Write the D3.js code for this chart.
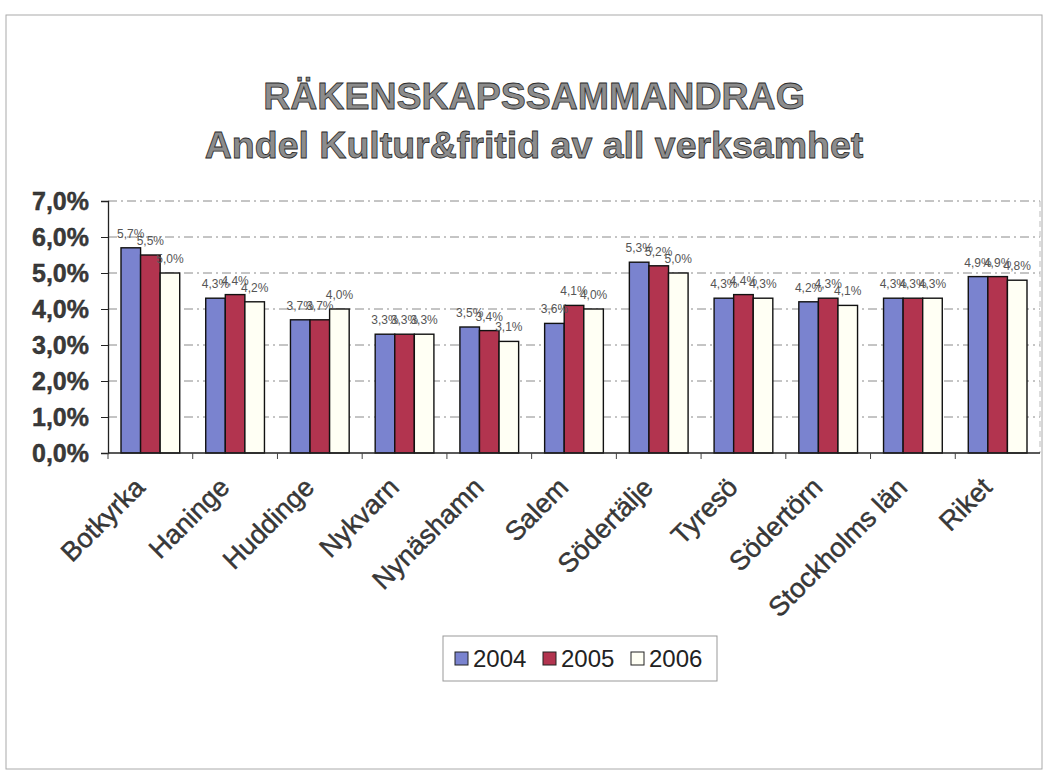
<html>
<head>
<meta charset="utf-8">
<title>Räkenskapssammandrag</title>
<script src="https://d3js.org/d3.v7.min.js"></script>
<style>
  body { margin: 0; background: #fff; }
  svg { display: block; font-family: Arial, "Liberation Sans", sans-serif; }
</style>
</head>
<body>
<div id="container"></div>
<script>
// chart data
var categories = ["Botkyrka", "Haninge", "Huddinge", "Nykvarn", "Nynäshamn", "Salem",
                  "Södertälje", "Tyresö", "Södertörn", "Stockholms län", "Riket"];
var years = ["2004", "2005", "2006"];
var values2004 = [5.7, 4.3, 3.7, 3.3, 3.5, 3.6, 5.3, 4.3, 4.2, 4.3, 4.9];
var values2005 = [5.5, 4.4, 3.7, 3.3, 3.4, 4.1, 5.2, 4.4, 4.3, 4.3, 4.9];
var values2006 = [5.0, 4.2, 4.0, 3.3, 3.1, 4.0, 5.0, 4.3, 4.1, 4.3, 4.8];
var yTicks = [0, 1, 2, 3, 4, 5, 6, 7];
var titleLines = ["RÄKENSKAPSSAMMANDRAG", "Andel Kultur&fritid av all verksamhet"];

var colors = {"2004": "#7a83cf", "2005": "#b2344f", "2006": "#fffff4"};

var width = 1047, height = 772;
var svg = d3.select("#container").append("svg")
  .attr("width", width)
  .attr("height", height);

// outer frame (page)
svg.append("rect")
  .attr("x", 6).attr("y", 15)
  .attr("width", 1036).attr("height", 754)
  .attr("fill", "none")
  .attr("stroke", "#aaa")
  .attr("stroke-width", 1);

// title
svg.selectAll(".title")
  .data(titleLines)
  .enter().append("text")
  .attr("class", "title")
  .attr("x", 534)
  .attr("y", function(d, i) { return 109 + i * 49; })
  .attr("text-anchor", "middle")
  .attr("font-size", "37.5px")
  .attr("font-weight", "bold")
  .attr("fill", "#8c8c8c")
  .attr("stroke", "#2a2a2a")
  .attr("stroke-width", 0.8)
  .text(function(d) { return d; });

var plotLeft = 108, plotRight = 1040, plotTop = 201, plotBottom = 453;

var x = d3.scaleBand()
  .domain(categories)
  .range([plotLeft, plotRight])
  .padding(0);

var xSub = d3.scaleBand()
  .domain(years)
  .range([13, x.bandwidth() - 13])
  .padding(0);

var y = d3.scaleLinear()
  .domain([0, 7])
  .range([plotBottom, plotTop]);

// gridlines
svg.append("g")
  .selectAll("line")
  .data(yTicks.slice(1))
  .enter().append("line")
  .attr("x1", plotLeft).attr("x2", plotRight)
  .attr("y1", function(d) { return y(d); })
  .attr("y2", function(d) { return y(d); })
  .attr("stroke", "#8a8a8a")
  .attr("stroke-width", 1)
  .attr("stroke-dasharray", "9,4,2,4");

// right edge of plot area
svg.append("line")
  .attr("x1", plotRight).attr("x2", plotRight)
  .attr("y1", plotTop).attr("y2", plotBottom)
  .attr("stroke", "#bbb")
  .attr("stroke-dasharray", "6,4");

// y axis
var yAxis = svg.append("g")
  .attr("transform", "translate(" + plotLeft + ",0)")
  .call(d3.axisLeft(y)
    .tickValues(yTicks)
    .tickSize(7)
    .tickPadding(12)
    .tickFormat(function(d) { return d.toFixed(1).replace(".", ",") + "%"; }));
yAxis.select(".domain").attr("stroke", "#222").attr("stroke-width", 1.3);
yAxis.selectAll(".tick line").attr("stroke", "#222");
yAxis.selectAll("text")
  .attr("font-size", "25px")
  .attr("font-weight", "bold")
  .attr("font-family", "Arial, 'Liberation Sans', sans-serif")
  .attr("fill", "#3a3a3a")
  .attr("stroke", "#222")
  .attr("stroke-width", 0.4);

// bars
var series = [values2004, values2005, values2006];
var groups = svg.append("g").selectAll("g")
  .data(categories)
  .enter().append("g")
  .attr("transform", function(d) { return "translate(" + x(d) + ",0)"; });

var barData = function(d, i) {
  return years.map(function(yr, j) { return {year: yr, value: series[j][i]}; });
};

groups.selectAll("rect")
  .data(barData)
  .enter().append("rect")
  .attr("x", function(d) { return xSub(d.year); })
  .attr("y", function(d) { return y(d.value); })
  .attr("width", xSub.bandwidth())
  .attr("height", function(d) { return plotBottom - y(d.value); })
  .attr("fill", function(d) { return colors[d.year]; })
  .attr("stroke", "#111")
  .attr("stroke-width", 1.4);

// data labels
groups.selectAll("text")
  .data(barData)
  .enter().append("text")
  .attr("x", function(d) { return xSub(d.year) + xSub.bandwidth() / 2; })
  .attr("y", function(d) { return y(d.value) - 10; })
  .attr("text-anchor", "middle")
  .attr("font-size", "12px")
  .attr("fill", "#555")
  .text(function(d) { return d.value.toFixed(1).replace(".", ",") + "%"; });

// x axis
var xAxis = svg.append("g")
  .attr("transform", "translate(0," + plotBottom + ")");
xAxis.append("line")
  .attr("x1", plotLeft).attr("x2", plotRight)
  .attr("stroke", "#222").attr("stroke-width", 1.3);
xAxis.selectAll(".xtick")
  .data(categories)
  .enter().append("line")
  .attr("class", "xtick")
  .attr("x1", function(d) { return x(d); })
  .attr("x2", function(d) { return x(d); })
  .attr("y1", 0).attr("y2", 6)
  .attr("stroke", "#444");
xAxis.selectAll(".xlabel")
  .data(categories)
  .enter().append("text")
  .attr("class", "xlabel")
  .attr("transform", function(d) {
    return "translate(" + (x(d) + x.bandwidth() / 2 - 4) + ",36) rotate(-45)";
  })
  .attr("text-anchor", "end")
  .attr("font-size", "27px")
  .attr("fill", "#3a3a3a")
  .attr("stroke", "#222")
  .attr("stroke-width", 0.4)
  .text(function(d) { return d; });

// legend
var legend = svg.append("g").attr("transform", "translate(443,636)");
legend.append("rect")
  .attr("width", 274).attr("height", 45)
  .attr("fill", "#fff")
  .attr("stroke", "#999");
var items = legend.selectAll(".item")
  .data(years)
  .enter().append("g")
  .attr("class", "item")
  .attr("transform", function(d, i) { return "translate(" + (12 + i * 88) + ",0)"; });
items.append("rect")
  .attr("y", 16).attr("width", 13).attr("height", 13)
  .attr("fill", function(d) { return colors[d]; })
  .attr("stroke", "#222");
items.append("text")
  .attr("x", 18).attr("y", 31)
  .attr("font-size", "24px")
  .attr("fill", "#222")
  .text(function(d) { return d; });
</script>
</body>
</html>
